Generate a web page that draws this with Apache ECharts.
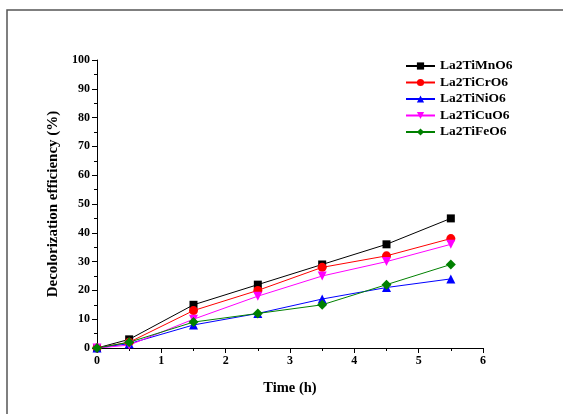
<!DOCTYPE html>
<html>
<head>
<meta charset="utf-8">
<script src="https://cdn.jsdelivr.net/npm/echarts@6/dist/echarts.min.js"></script>
<style>
  html, body { margin: 0; padding: 0; background: #fff; }
  #main { width: 563px; height: 414px; }
</style>
</head>
<body>
<div id="main"></div>
<script>
const timeH = [0, 0.5, 1.5, 2.5, 3.5, 4.5, 5.5];
const seriesNames = ['La2TiMnO6', 'La2TiCrO6', 'La2TiNiO6', 'La2TiCuO6', 'La2TiFeO6'];
const mnVals = [0, 3, 15, 22, 29, 36, 45];
const crVals = [0, 2, 13, 20, 28, 32, 38];
const niVals = [0, 1.5, 8, 12, 17, 21, 24];
const cuVals = [0, 1, 10, 18, 25, 30, 36];
const feVals = [0, 2, 9, 12, 15, 22, 29];

const allVals = [mnVals, crVals, niVals, cuVals, feVals];
const colors = ['#000000', '#ff0000', '#0000ff', '#ff00ff', '#008000'];
const symbols = ['rect', 'circle', 'triangle', 'triangle', 'diamond'];
const rotates = [0, 0, 0, 180, 0];
const sizes = [8, 9, 9, 9, 10];

const serif = 'Liberation Serif';

let chart = echarts.init(document.getElementById('main'));

let series = seriesNames.map((name, i) => ({
  name: name,
  type: 'line',
  data: timeH.map((t, j) => [t, allVals[i][j]]),
  symbol: symbols[i],
  symbolRotate: rotates[i],
  symbolSize: sizes[i],
  showAllSymbol: true,
  lineStyle: { width: 1, color: colors[i] },
  itemStyle: { color: colors[i] },
}));

let option = {
  backgroundColor: '#fff',
  animation: false,
  graphic: [{
    type: 'rect',
    shape: { x: 7, y: 10, width: 600, height: 500 },
    style: { fill: 'none', stroke: '#555', lineWidth: 1.5 },
    z: -1,
  }],
  legend: {
    orient: 'vertical',
    left: 400,
    top: 54,
    itemWidth: 29,
    itemHeight: 9,
    itemGap: 2.5,
    textStyle: { fontFamily: serif, fontWeight: 'bold', fontSize: 13.5, color: '#000' },
    data: seriesNames,
  },
  grid: { left: 97, right: 80, top: 60, bottom: 66 },
  xAxis: {
    type: 'value',
    min: 0,
    max: 6,
    interval: 1,
    name: 'Time (h)',
    nameLocation: 'middle',
    nameGap: 33,
    nameTextStyle: { fontFamily: serif, fontWeight: 'bold', fontSize: 14.5, color: '#000' },
    axisLine: { lineStyle: { color: '#000', width: 1 } },
    axisTick: { inside: false, length: 5, lineStyle: { color: '#000' } },
    minorTick: { show: true, splitNumber: 2, length: 3, lineStyle: { color: '#000' } },
    axisLabel: { fontFamily: serif, fontWeight: 'bold', fontSize: 12, color: '#000', margin: 7 },
    splitLine: { show: false },
  },
  yAxis: {
    type: 'value',
    min: 0,
    max: 100,
    interval: 10,
    name: 'Decolorization efficiency (%)',
    nameLocation: 'middle',
    nameGap: 31,
    nameTextStyle: { fontFamily: serif, fontWeight: 'bold', fontSize: 15, color: '#000' },
    axisLine: { show: true, lineStyle: { color: '#000', width: 1 } },
    axisTick: { show: true, inside: false, length: 5, lineStyle: { color: '#000' } },
    minorTick: { show: true, splitNumber: 2, length: 3, lineStyle: { color: '#000' } },
    axisLabel: { fontFamily: serif, fontWeight: 'bold', fontSize: 12, color: '#000', margin: 7 },
    splitLine: { show: false },
  },
  series: series,
};

chart.setOption(option);
</script>
</body>
</html>
